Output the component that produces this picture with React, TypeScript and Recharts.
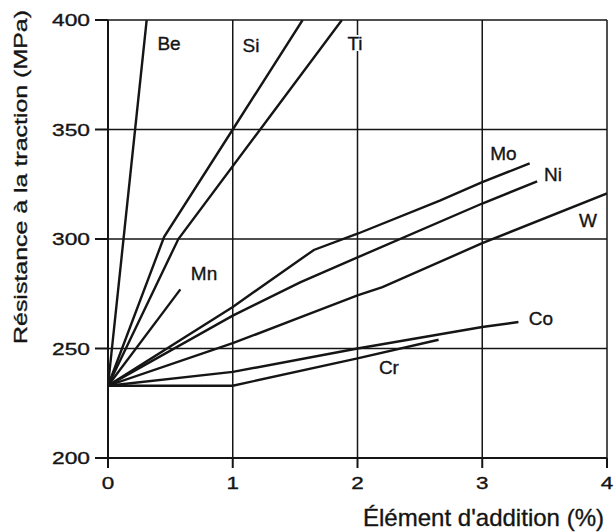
import React from 'react';
import { LineChart, Line, XAxis, YAxis, CartesianGrid, ReferenceDot } from 'recharts';

// Axis ticks
const xTicks = [0, 1, 2, 3, 4];
const yTicks = [200, 250, 300, 350, 400];

// Series (addition % , tensile strength MPa)
const beX = [0, 0.31];
const beY = [233, 400];
const siX = [0, 0.45, 1, 1.56];
const siY = [233, 301, 350, 400];
const tiX = [0, 0.564, 1.22, 1.875];
const tiY = [233, 300, 350, 400];
const mnX = [0, 0.58];
const mnY = [233, 277];
const moX = [0, 1, 1.65, 2, 2.66, 3, 3.38];
const moY = [233, 269, 295, 302.4, 317.5, 326, 334.5];
const niX = [0, 1, 1.54, 2, 3, 3.44];
const niY = [233, 265, 280.2, 291.6, 316.2, 326.3];
const wX = [0, 1, 1.54, 2, 2.2, 3, 4];
const wY = [233, 252.4, 264.2, 274.3, 278, 298.1, 320.8];
const coX = [0, 1, 2, 3, 3.29];
const coY = [233, 239.3, 250, 259.8, 262.1];
const crX = [0, 1, 2, 2.65];
const crY = [233, 233, 245.5, 254];

// Series names and label anchor points (data coords)
const names = ['Be', 'Si', 'Ti', 'Mn', 'Mo', 'Ni', 'W', 'Co', 'Cr'];
const labelX = [0.489, 1.146, 1.98, 0.77, 3.17, 3.567, 3.848, 3.471, 2.252];
const labelY = [389.5, 388.7, 389.5, 284.3, 339.4, 329.8, 308.4, 263.8, 241.5];

const seriesX = [beX, siX, tiX, mnX, moX, niX, wX, coX, crX];
const seriesY = [beY, siY, tiY, mnY, moY, niY, wY, coY, crY];

const series = names.map((name, i) => ({
  name,
  data: seriesX[i].map((x, j) => ({ x, y: seriesY[i][j] })),
}));

const FONT = '"Liberation Sans", Arial, Helvetica, sans-serif';
const INK = '#151515';
const TEXT_STROKE = { stroke: INK, strokeWidth: 0.35 };

const YTick = (props: any) => {
  const { x, y, payload } = props;
  return (
    <text x={x} y={y} dy="0.36em" textAnchor="end" fontSize={17} fontFamily={FONT} fill={INK}
      {...TEXT_STROKE} textLength={38} lengthAdjust="spacingAndGlyphs">
      {payload.value}
    </text>
  );
};

const XTick = (props: any) => {
  const { x, y, payload } = props;
  return (
    <text x={x} y={y} dy="0.71em" textAnchor="middle" fontSize={17} fontFamily={FONT} fill={INK}
      {...TEXT_STROKE} textLength={12.5} lengthAdjust="spacingAndGlyphs">
      {payload.value}
    </text>
  );
};

const SeriesLabel = (text: string) => (props: any) => {
  const vb = props.viewBox || {};
  const cx = (vb.x ?? 0) + (vb.width ?? 0) / 2;
  const cy = (vb.y ?? 0) + (vb.height ?? 0) / 2;
  const w = text.length * 11 + 2;
  return (
    <g>
      <rect x={cx - w / 2} y={cy - 8} width={w} height={16} fill="#fff" />
      <text x={cx} y={cy} dy="0.36em" textAnchor="middle" fontSize={19} fontFamily={FONT} fill={INK}
        {...TEXT_STROKE}>
        {text}
      </text>
    </g>
  );
};

const YTitle = (props: any) => {
  const vb = props.viewBox || {};
  const x = (vb.x ?? 0) + 27;
  const y = 177;
  return (
    <text x={x} y={y} transform={`rotate(-90 ${x} ${y})`} textAnchor="middle" fontSize={19}
      fontFamily={FONT} fill={INK} {...TEXT_STROKE} textLength={334} lengthAdjust="spacingAndGlyphs">
      Résistance à la traction (MPa)
    </text>
  );
};

const XTitle = (props: any) => {
  const vb = props.viewBox || {};
  const x = (vb.x ?? 0) + (vb.width ?? 0) - 3;
  const y = (vb.y ?? 0) + 68;
  return (
    <text x={x} y={y} textAnchor="end" fontSize={24} fontFamily={FONT} fill={INK}
      {...TEXT_STROKE} textLength={241} lengthAdjust="spacingAndGlyphs">
      Élément d'addition (%)
    </text>
  );
};

export default function App() {
  return (
    <div style={{ position: 'absolute', left: 0, top: 0, width: 616, height: 532, background: '#fff' }}>
      <LineChart width={616} height={532} margin={{ top: 20, right: 9, bottom: 0, left: 0 }}>
        <CartesianGrid stroke={INK} strokeWidth={1.5} />
        <XAxis
          type="number"
          dataKey="x"
          domain={[0, 4]}
          ticks={xTicks}
          allowDataOverflow
          height={74}
          tickSize={10}
          tickMargin={9}
          axisLine={{ stroke: INK, strokeWidth: 2 }}
          tickLine={{ stroke: INK, strokeWidth: 2 }}
          tick={<XTick />}
          label={{ content: <XTitle /> }}
        />
        <YAxis
          type="number"
          dataKey="y"
          domain={[200, 400]}
          ticks={yTicks}
          allowDataOverflow
          width={108}
          tickSize={13}
          tickMargin={5}
          axisLine={{ stroke: INK, strokeWidth: 2 }}
          tickLine={{ stroke: INK, strokeWidth: 2 }}
          tick={<YTick />}
          label={{ content: <YTitle /> }}
        />
        {series.map((s) => (
          <Line
            key={s.name}
            data={s.data}
            dataKey="y"
            type="linear"
            stroke={INK}
            strokeWidth={2.4}
            dot={false}
            activeDot={false}
            isAnimationActive={false}
          />
        ))}
        {names.map((n, i) => (
          <ReferenceDot
            key={n}
            x={labelX[i]}
            y={labelY[i]}
            r={0}
            fill="none"
            stroke="none"
            label={{ content: SeriesLabel(n) }}
          />
        ))}
      </LineChart>
    </div>
  );
}
